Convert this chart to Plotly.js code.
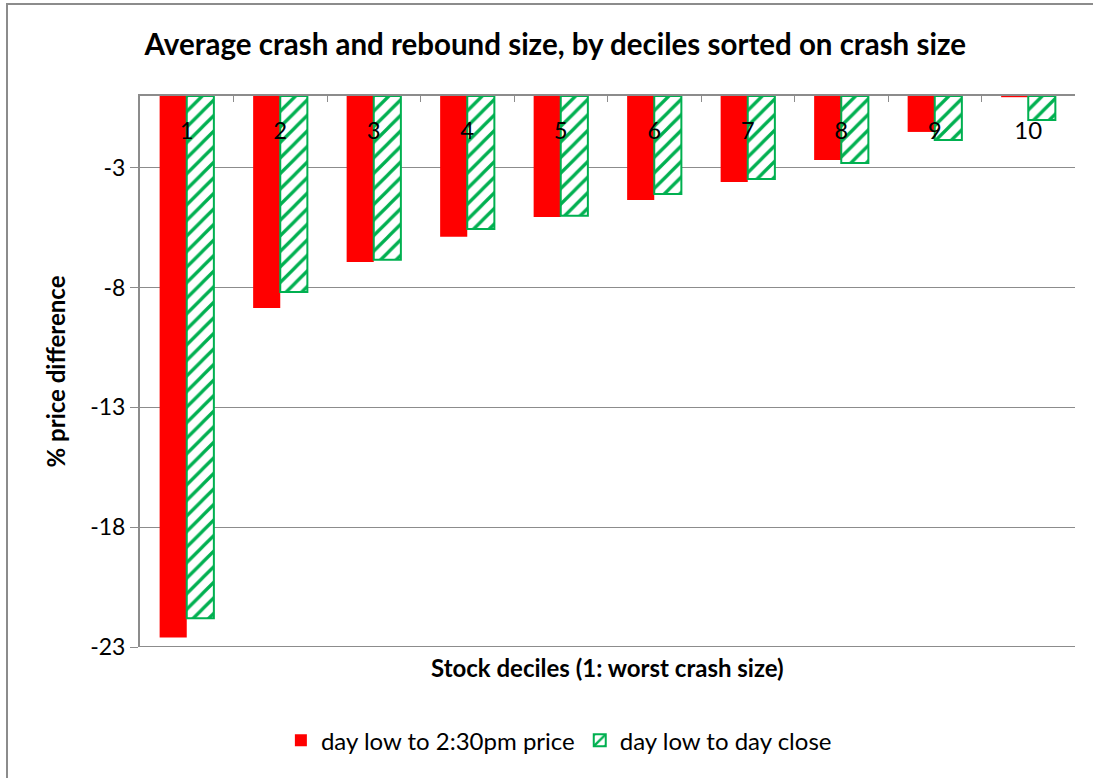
<!DOCTYPE html>
<html>
<head>
<meta charset="utf-8">
<script src="https://cdn.plot.ly/plotly-3.0.1.min.js"></script>
<style>
  body { margin: 0; background: #fff; }
  #wrap { position: relative; width: 1093px; height: 778px; overflow: hidden; }
  #frame { position: absolute; left: 6px; top: 3px; width: 1100px; height: 800px;
           border: 2px solid #8c8c8c; box-sizing: border-box; pointer-events: none; }
  #chart { width: 1093px; height: 778px; }
</style>
</head>
<body>
<div id="wrap">
  <div id="chart"></div>
  <div id="frame"></div>
</div>
<script>
// Average crash / rebound by decile
const deciles = ['1', '2', '3', '4', '5', '6', '7', '8', '9', '10'];
const crashTo230 = [-22.6, -8.85, -6.93, -5.88, -5.05, -4.34, -3.59, -2.67, -1.5, -0.05];
const lowToClose = [-21.8, -8.18, -6.84, -5.55, -5.0, -4.09, -3.46, -2.8, -1.84, -1.0];
const yTicks = [-3, -8, -13, -18, -23];

const font = 'Lato, "Open Sans", sans-serif';

const traces = [
    {
        type: 'bar',
        name: 'day low to 2:30pm price',
        x: deciles,
        y: crashTo230,
        marker: { color: '#ff0000', line: { width: 0 } },
        hoverinfo: 'x+y'
    },
    {
        type: 'bar',
        name: 'day low to day close',
        x: deciles,
        y: lowToClose,
        marker: {
            color: '#ffffff',
            line: { color: '#00b050', width: 2 },
            pattern: { shape: '/', fgcolor: '#00b050', bgcolor: '#ffffff', size: 11, solidity: 0.3 }
        },
        hoverinfo: 'x+y'
    }
];

const layout = {
    width: 1093,
    height: 778,
    paper_bgcolor: '#ffffff',
    plot_bgcolor: '#ffffff',
    margin: { l: 140, r: 18, t: 96, b: 131 },
    font: { family: font, size: 20, color: '#000' },
    title: {
        text: '<b>Average crash and rebound size, by deciles sorted on crash size</b>',
        font: { family: font, size: 29.5, color: '#000' },
        x: 0.508, xanchor: 'center', y: 0.943, yanchor: 'middle'
    },
    barmode: 'group',
    bargap: 0.42,
    bargroupgap: 0,
    xaxis: {
        type: 'category',
        side: 'top',
        showline: true,
        linecolor: '#8c8c8c',
        linewidth: 2,
        ticks: 'inside',
        tickson: 'boundaries',
        ticklen: 6,
        tickcolor: '#8c8c8c',
        ticklabelposition: 'inside',
        ticklabelstandoff: 22,
        tickfont: { family: font, size: 24, color: '#000' },
        showgrid: false,
        zeroline: false,
        fixedrange: true
    },
    yaxis: {
        range: [-23, 0],
        tickvals: yTicks,
        ticktext: yTicks.map(String),
        ticks: 'outside',
        ticklen: 8,
        tickcolor: '#8c8c8c',
        tickfont: { family: font, size: 23, color: '#000' },
        showline: true,
        linecolor: '#8c8c8c',
        linewidth: 2,
        showgrid: true,
        gridcolor: '#8c8c8c',
        gridwidth: 1,
        zeroline: false,
        title: {
            text: '<b>% price difference</b>',
            font: { family: font, size: 24, color: '#000' },
            standoff: 18
        },
        fixedrange: true
    },
    showlegend: true,
    legend: {
        orientation: 'h',
        x: 0.448, xanchor: 'center',
        y: -0.17, yanchor: 'middle',
        font: { family: font, size: 24, color: '#000' },
        itemwidth: 30,
        traceorder: 'normal'
    },
    annotations: [{
        text: '<b>Stock deciles (1: worst crash size)</b>',
        xref: 'paper', yref: 'paper',
        x: 0.5, y: -0.038, xanchor: 'center', yanchor: 'middle',
        showarrow: false,
        font: { family: font, size: 24, color: '#000' }
    }],
    shapes: [{
        type: 'line', xref: 'paper', yref: 'y',
        x0: 0, x1: 1, y0: -23, y1: -23,
        line: { color: '#8c8c8c', width: 2 }
    }]
};

Plotly.newPlot('chart', traces, layout, { displayModeBar: false, staticPlot: true });
</script>
</body>
</html>
